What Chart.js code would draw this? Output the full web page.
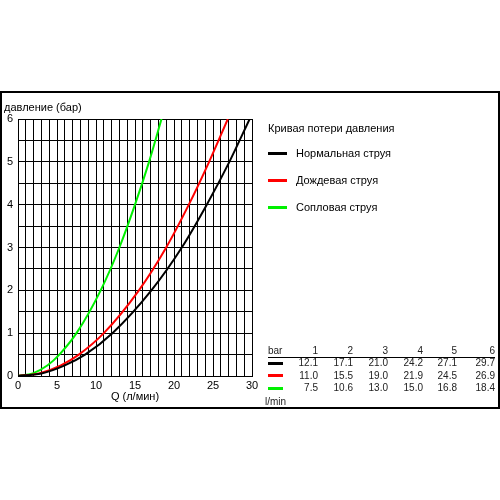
<!DOCTYPE html>
<html>
<head>
<meta charset="utf-8">
<script src="https://cdn.jsdelivr.net/npm/chart.js@4/dist/chart.umd.min.js"></script>
<style>
    body { margin: 0; background: #fff; font-family: "Liberation Sans", Arial, sans-serif; }
    #wrap { position: relative; width: 500px; height: 500px; }
    #chart { position: absolute; left: 0; top: 0; }
    .frame { position: absolute; left: 0; top: 91px; width: 496px; height: 314px; border: 2px solid #000; }
    .txt { position: absolute; font-size: 11px; color: #000; white-space: nowrap; line-height: 1; transform: translateY(-50%); }
    .num { position: absolute; font-size: 10px; color: #222; white-space: nowrap; line-height: 1; transform: translate(-100%, -50%); }
    .swatch { position: absolute; height: 3px; }
</style>
</head>
<body>
<div id="wrap">
    <div class="frame"></div>
    <canvas id="chart" width="500" height="500"></canvas>
    <div id="overlay"></div>
</div>
<script>
// давление (бар) по таблице
const pressures = [1, 2, 3, 4, 5, 6];
const seriesNames = ['Нормальная струя', 'Дождевая струя', 'Сопловая струя'];
const seriesColors = ['#000000', '#ff0000', '#00f000'];

// расход Q (л/мин) при давлении 1..6 бар
const flowNormal = [12.1, 17.1, 21.0, 24.2, 27.1, 29.7];
const flowRain = [11.0, 15.5, 19.0, 21.9, 24.5, 26.9];
const flowJet = [7.5, 10.6, 13.0, 15.0, 16.8, 18.4];

// начальный участок кривых
const lowPressures = [0, 0.06, 0.25, 0.5];
const lowNormal = [0, 3.0, 6.0, 8.6];
const lowRain = [0, 2.7, 5.5, 7.8];
const lowJet = [0, 1.9, 3.8, 5.3];

const xTickLabels = [0, 5, 10, 15, 20, 25, 30];
const yTickLabels = [0, 1, 2, 3, 4, 5, 6];

function toPoints(lowQ, flows) {
    const pts = lowQ.map((q, i) => ({ x: q, y: lowPressures[i] }));
    flows.forEach((q, i) => pts.push({ x: q, y: pressures[i] }));
    return pts;
}

const allFlows = [flowNormal, flowRain, flowJet];
const allLow = [lowNormal, lowRain, lowJet];

const datasets = allFlows.map((flows, i) => ({
    label: seriesNames[i],
    data: toPoints(allLow[i], flows),
    borderColor: seriesColors[i],
    borderWidth: 2,
    pointRadius: 0,
    showLine: true,
    cubicInterpolationMode: 'monotone',
    fill: false
}));

const font = { family: '"Liberation Sans", Arial, sans-serif', size: 11 };

new Chart(document.getElementById('chart'), {
    type: 'scatter',
    data: { datasets },
    options: {
        responsive: false,
        animation: false,
        layout: { padding: { left: 0, top: 119, right: 248, bottom: 92 } },
        plugins: { legend: { display: false }, tooltip: { enabled: false } },
        scales: {
            x: {
                type: 'linear',
                min: 0,
                max: 30,
                ticks: {
                    stepSize: 1,
                    color: '#000',
                    font,
                    padding: 3,
                    maxRotation: 0,
                    autoSkip: false,
                    callback: v => xTickLabels.includes(v) ? String(v) : ''
                },
                grid: { color: '#000', lineWidth: 1, drawTicks: false },
                border: { color: '#000', width: 1 },
                title: { display: true, text: 'Q (л/мин)', color: '#000', font, padding: { top: 0, bottom: 4 } },
                afterFit: s => { s.height = 32; }
            },
            y: {
                type: 'linear',
                min: 0,
                max: 6,
                ticks: {
                    stepSize: 0.5,
                    color: '#000',
                    font,
                    padding: 5,
                    autoSkip: false,
                    callback: v => yTickLabels.includes(v) ? String(v) : ''
                },
                grid: { color: '#000', lineWidth: 1, drawTicks: false },
                border: { color: '#000', width: 1 },
                afterFit: s => { s.width = 18; }
            }
        }
    }
});

// подписи, легенда и таблица
const overlay = document.getElementById('overlay');
function addText(cls, text, x, y, extra) {
    const d = document.createElement('div');
    d.className = cls;
    d.textContent = text;
    d.style.left = x + 'px';
    d.style.top = y + 'px';
    if (extra) Object.assign(d.style, extra);
    overlay.appendChild(d);
}
function addSwatch(color, x, y, w) {
    const d = document.createElement('div');
    d.className = 'swatch';
    d.style.left = x + 'px';
    d.style.top = (y - 1.5) + 'px';
    d.style.width = w + 'px';
    d.style.background = color;
    overlay.appendChild(d);
}

addText('txt', 'давление (бар)', 4, 107);

addText('txt', 'Кривая потери давления', 268, 128);
seriesNames.forEach((name, i) => {
    const y = 153 + i * 27;
    addSwatch(seriesColors[i], 268, y, 19);
    addText('txt', name, 296, y);
});

const colRight = [318, 353, 388, 423, 457, 495];
addText('txt', 'bar', 268, 351, { fontSize: '10px', color: '#222' });
pressures.forEach((p, j) => addText('num', String(p), colRight[j], 351));
const rule = document.createElement('div');
Object.assign(rule.style, { position: 'absolute', left: '268px', top: '357px', width: '227px', height: '1px', background: '#000' });
overlay.appendChild(rule);
allFlows.forEach((flows, i) => {
    const y = 363 + i * 12.7;
    addSwatch(seriesColors[i], 268, y, 15);
    flows.forEach((q, j) => addText('num', q.toFixed(1), colRight[j], y));
});
addText('txt', 'l/min', 265, 402, { fontSize: '10px', color: '#222' });
</script>
</body>
</html>
